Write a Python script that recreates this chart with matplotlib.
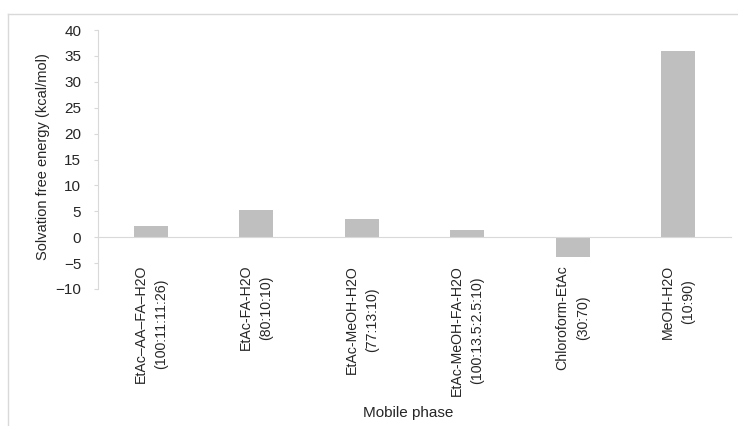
import matplotlib
matplotlib.use('Agg')
import matplotlib.pyplot as plt
from matplotlib.lines import Line2D

phases = ['EtAc\u2013AA\u2013FA\u2013H2O\n(100:11:11:26)',
          'EtAc-FA-H2O\n(80:10:10)',
          'EtAc-MeOH-H2O\n(77:13:10)',
          'EtAc-MeOH-FA-H2O\n(100:13.5:2.5:10)',
          'Chloroform-EtAc\n(30:70)',
          'MeOH-H2O\n(10:90)']
energy = [2.1, 5.2, 3.5, 1.3, -3.9, 36.0]
yticks = list(range(-10, 41, 5))

plt.rcParams['font.family'] = ['Liberation Sans', 'DejaVu Sans']
grid_col = '#D9D9D9'
txt_col = '#262626'

fig = plt.figure(figsize=(7.38, 4.26), dpi=100)
ax = fig.add_axes([98/738, 1-289/426, (731-98)/738, (289-30)/426])

x = range(len(phases))
ax.bar(x, energy, width=0.32, color='#BFBFBF', zorder=2)

for s in ['top', 'right']:
    ax.spines[s].set_visible(False)
ax.spines['bottom'].set_position(('data', 0))
ax.spines['bottom'].set_color(grid_col)
ax.spines['left'].set_color(grid_col)
ax.spines['bottom'].set_zorder(3)

ax.set_xlim(-0.5, len(phases)-0.5)
ax.set_ylim(-10, 40)
ax.set_yticks(yticks)
ax.set_xticks(list(x))
ax.set_xticklabels(phases, rotation=90, va='top', ha='center',
                   multialignment='center', fontsize=10.2, color=txt_col,
                   linespacing=1.6)
ax.tick_params(axis='x', length=0, pad=20)
ax.tick_params(axis='y', length=3, color=grid_col, pad=9,
               labelsize=11, labelcolor=txt_col)

fig.text(43/738, 1-157/426, 'Solvation free energy (kcal/mol)', rotation=90,
         ha='center', va='center', fontsize=10.5, color=txt_col)
fig.text(408/738, 1-413/426, 'Mobile phase', ha='center', va='center',
         fontsize=11, color=txt_col)

# outer chart frame (only top and left edges visible)
fig.add_artist(Line2D([8/738, 1], [1-14/426, 1-14/426], color=grid_col, lw=1,
                      transform=fig.transFigure))
fig.add_artist(Line2D([8/738, 8/738], [0, 1-14/426], color=grid_col, lw=1,
                      transform=fig.transFigure))

fig.savefig('out.png', dpi=100)
